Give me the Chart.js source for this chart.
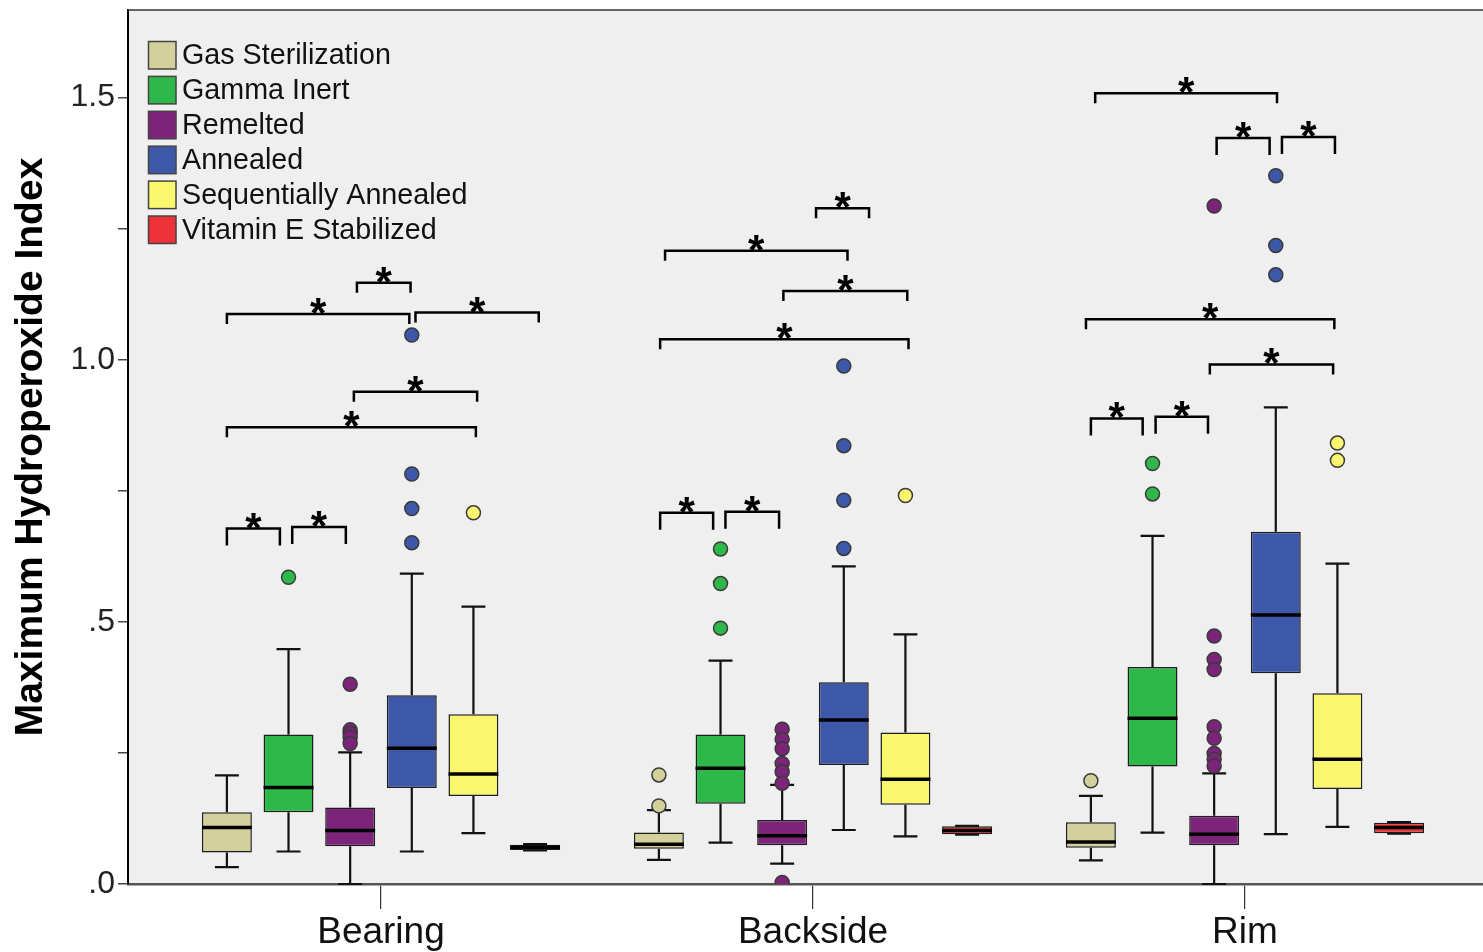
<!DOCTYPE html>
<html>
<head>
<meta charset="utf-8">
<script src="https://cdn.jsdelivr.net/npm/chart.js@4.4.1/dist/chart.umd.min.js"></script>
<style>
html,body{margin:0;padding:0;background:#ffffff;}
#wrap{width:1483px;height:952px;position:relative;}
</style>
</head>
<body>
<div id="wrap"><canvas id="c"></canvas></div>
<script>
// ---------------- DATA ----------------
const categories = ['Bearing', 'Backside', 'Rim'];
const seriesNames = ['Gas Sterilization', 'Gamma Inert', 'Remelted', 'Annealed', 'Sequentially Annealed', 'Vitamin E Stabilized'];
const seriesColors = ['#d4d09c', '#2fb84a', '#7c2479', '#3d58a9', '#faf66e', '#ee3237'];

// [lower whisker, Q1, median, Q3, upper whisker] for Bearing, Backside, Rim
const gasSterilization = [[0.032, 0.060, 0.108, 0.137, 0.207], [0.046, 0.067, 0.076, 0.098, 0.141], [0.045, 0.069, 0.080, 0.118, 0.168]];
const gammaInert       = [[0.062, 0.137, 0.184, 0.285, 0.448], [0.079, 0.153, 0.221, 0.285, 0.426], [0.098, 0.224, 0.316, 0.414, 0.664]];
const remelted         = [[0.000, 0.072, 0.102, 0.146, 0.251], [0.039, 0.074, 0.092, 0.122, 0.189], [0.000, 0.074, 0.095, 0.130, 0.211]];
const annealed         = [[0.062, 0.183, 0.259, 0.360, 0.592], [0.103, 0.227, 0.313, 0.385, 0.606], [0.095, 0.402, 0.513, 0.672, 0.909]];
const seqAnnealed      = [[0.097, 0.168, 0.210, 0.324, 0.529], [0.091, 0.151, 0.200, 0.289, 0.476], [0.109, 0.181, 0.238, 0.364, 0.611]];
const vitaminE         = [[0.064, 0.065, 0.070, 0.075, 0.076], [0.094, 0.095, 0.102, 0.110, 0.111], [0.096, 0.097, 0.108, 0.117, 0.118]];

// outliers for Bearing, Backside, Rim
const gasOutliers       = [[], [0.208, 0.149], [0.197]];
const gammaOutliers     = [[0.585], [0.639, 0.573, 0.488], [0.802, 0.744]];
const remeltedOutliers  = [[0.381, 0.294, 0.287, 0.280, 0.268], [0.295, 0.276, 0.258, 0.230, 0.214, 0.192, 0.003], [1.293, 0.473, 0.428, 0.409, 0.300, 0.278, 0.249, 0.238, 0.225]];
const annealedOutliers  = [[1.047, 0.782, 0.716, 0.651], [0.988, 0.836, 0.732, 0.640], [1.351, 1.218, 1.162]];
const seqOutliers       = [[0.708], [0.741], [0.841, 0.808]];
const vitaminEOutliers  = [[], [], []];

const yTickValues = [0, 0.25, 0.5, 0.75, 1.0, 1.25, 1.5];
const yTickLabels = ['.0', '', '.5', '', '1.0', '', '1.5'];
const yTitle = 'Maximum Hydroperoxide Index';

// significance brackets: [category, from series, to series, level]
const brackets = [
  [1, 0.00, 0.86, 0.678], [1, 1.06, 1.93, 0.681], [1, 0.00, 4.04, 0.871], [1, 2.06, 4.06, 0.939],
  [1, 0.00, 2.96, 1.087], [1, 3.06, 5.06, 1.090], [1, 2.11, 2.98, 1.147],
  [2, 0.02, 0.88, 0.708], [2, 1.08, 1.95, 0.710], [2, 0.02, 4.05, 1.039], [2, 2.02, 4.03, 1.131],
  [2, 0.10, 3.06, 1.208], [2, 2.55, 3.41, 1.289],
  [3, 0.00, 0.84, 0.888], [3, 1.05, 1.90, 0.891], [3, 1.93, 3.93, 0.991], [3, -0.08, 3.95, 1.077],
  [3, 2.04, 2.90, 1.423], [3, 3.10, 3.96, 1.425], [3, 0.07, 3.02, 1.508]
];
const bracketMark = '*';
const bracketLegPx = [17, 17, 10, 10, 10, 10, 10, 17, 17, 10, 10, 10, 10, 17, 17, 10, 10, 17, 17, 10];

// ---------------- CHART ----------------
const boxes = [gasSterilization, gammaInert, remelted, annealed, seqAnnealed, vitaminE];
const outliers = [gasOutliers, gammaOutliers, remeltedOutliers, annealedOutliers, seqOutliers, vitaminEOutliers];
const FONT = "'Liberation Sans', Arial, Helvetica, sans-serif";
const CAT_PCT = 0.856, BAR_PCT = 0.81;
const slot = CAT_PCT / seriesNames.length;
const mid = (seriesNames.length - 1) / 2;

Chart.defaults.font.family = FONT;

const datasets = [];
boxes.forEach((b, s) => {
  datasets.push({
    type: 'bar', label: seriesNames[s],
    data: b.map((v, c) => ({ x: c + 1, y: [v[1], v[3]] })),
    backgroundColor: seriesColors[s], borderColor: '#1e1e1e', borderWidth: 1.5, borderSkipped: false,
    categoryPercentage: CAT_PCT, barPercentage: BAR_PCT, order: 2
  });
});
outliers.forEach((o, s) => {
  const pts = [];
  o.forEach((vals, c) => vals.forEach(v => pts.push({ x: c + 1 + (s - mid) * slot, y: v })));
  datasets.push({
    type: 'scatter', label: seriesNames[s] + ' outliers', data: pts,
    pointRadius: 7, pointHoverRadius: 7, pointBackgroundColor: seriesColors[s],
    pointBorderColor: '#3a3a3a', pointBorderWidth: 1.5, order: 1
  });
});

const noPad = s => { s.paddingTop = 0; s.paddingBottom = 0; s.paddingLeft = 0; s.paddingRight = 0; };

const boxPlugin = {
  id: 'boxParts',
  beforeDraw(chart) {
    const { ctx, chartArea: a } = chart;
    ctx.save();
    ctx.fillStyle = '#efefef';
    ctx.fillRect(a.left, a.top, a.right - a.left, a.bottom - a.top);
    ctx.restore();
  },
  beforeDatasetsDraw(chart) {
    const { ctx } = chart; const ys = chart.scales.y;
    ctx.save();
    ctx.strokeStyle = '#111'; ctx.lineWidth = 2.2;
    boxes.forEach((b, s) => {
      const meta = chart.getDatasetMeta(s);
      b.forEach((v, c) => {
        const el = meta.data[c]; const x = el.x; const cw = el.width * 0.48;
        ctx.beginPath();
        ctx.moveTo(x, ys.getPixelForValue(v[3])); ctx.lineTo(x, ys.getPixelForValue(v[4]));
        ctx.moveTo(x, ys.getPixelForValue(v[1])); ctx.lineTo(x, ys.getPixelForValue(v[0]));
        ctx.moveTo(x - cw / 2, ys.getPixelForValue(v[4])); ctx.lineTo(x + cw / 2, ys.getPixelForValue(v[4]));
        ctx.moveTo(x - cw / 2, ys.getPixelForValue(v[0])); ctx.lineTo(x + cw / 2, ys.getPixelForValue(v[0]));
        ctx.stroke();
      });
    });
    ctx.restore();
  },
  afterDatasetsDraw(chart) {
    const { ctx, chartArea: a } = chart; const ys = chart.scales.y; const xs = chart.scales.x;
    ctx.save();
    // medians
    ctx.strokeStyle = '#000'; ctx.lineWidth = 3.5;
    boxes.forEach((b, s) => {
      const meta = chart.getDatasetMeta(s);
      b.forEach((v, c) => {
        const el = meta.data[c]; const y = ys.getPixelForValue(v[2]);
        ctx.beginPath(); ctx.moveTo(el.x - el.width / 2, y); ctx.lineTo(el.x + el.width / 2, y); ctx.stroke();
      });
    });
    // frame top
    ctx.strokeStyle = '#333'; ctx.lineWidth = 1.5;
    ctx.beginPath(); ctx.moveTo(a.left, a.top); ctx.lineTo(a.right, a.top); ctx.stroke();
    // brackets
    ctx.strokeStyle = '#000'; ctx.lineWidth = 2.5; ctx.lineJoin = 'miter';
    ctx.fillStyle = '#000'; ctx.font = 'bold 42px ' + FONT; ctx.textAlign = 'center'; ctx.textBaseline = 'alphabetic';
    brackets.forEach((br, i) => {
      const [c, from, to, v] = br; const leg = bracketLegPx[i];
      const x1 = xs.getPixelForValue(c + (from - mid) * slot);
      const x2 = xs.getPixelForValue(c + (to - mid) * slot);
      const y = ys.getPixelForValue(v);
      ctx.beginPath(); ctx.moveTo(x1, y + leg); ctx.lineTo(x1, y); ctx.lineTo(x2, y); ctx.lineTo(x2, y + leg); ctx.stroke();
      ctx.fillText(bracketMark, (x1 + x2) / 2, y + 13);
    });
    ctx.restore();
  },
  afterDraw(chart) {
    const { ctx } = chart;
    ctx.save();
    ctx.font = '28.7px ' + FONT; ctx.textBaseline = 'middle'; ctx.textAlign = 'left';
    seriesNames.forEach((n, i) => {
      const top = 41.5 + i * 34.9;
      ctx.fillStyle = seriesColors[i]; ctx.fillRect(148.5, top, 27.5, 27.5);
      ctx.strokeStyle = '#444'; ctx.lineWidth = 1.5; ctx.strokeRect(148.5, top, 27.5, 27.5);
      ctx.fillStyle = '#111'; ctx.fillText(n, 182, top + 15);
    });
    ctx.restore();
  }
};

new Chart(document.getElementById('c'), {
  type: 'bar',
  data: { datasets },
  plugins: [boxPlugin],
  options: {
    responsive: true, maintainAspectRatio: false, animation: false,
    layout: { autoPadding: false, padding: { top: 10, left: 0, right: 0, bottom: 0 } },
    plugins: { legend: { display: false }, tooltip: { enabled: false } },
    scales: {
      x: {
        type: 'linear', min: 0.4144, max: 3.551, offset: false,
        afterBuildTicks: s => { s.ticks = categories.map((_, i) => ({ value: i + 1 })); },
        afterFit: s => { s.height = 68; noPad(s); },
        ticks: { callback: v => categories[v - 1] || '', font: { size: 37 }, color: '#111', padding: 2, maxRotation: 0, autoSkip: false },
        grid: { offset: false, drawOnChartArea: false, drawTicks: true, tickLength: 25, color: '#333', lineWidth: 1.2 },
        border: { display: true, color: '#555', width: 2.5 }
      },
      y: {
        min: 0, max: 1.667,
        afterBuildTicks: s => { s.ticks = yTickValues.map(v => ({ value: v })); },
        afterFit: s => { s.width = 128; noPad(s); },
        ticks: { callback: (v, i) => yTickLabels[i], font: { size: 32 }, color: '#222', padding: 3, autoSkip: false },
        grid: { drawOnChartArea: false, drawTicks: true, tickLength: 10, color: '#444', lineWidth: 1.5 },
        border: { display: true, color: '#000', width: 2 },
        title: { display: true, text: yTitle, font: { size: 39, weight: 'bold' }, color: '#000', padding: { top: 8, bottom: 0 } }
      }
    }
  }
});
</script>
</body>
</html>
